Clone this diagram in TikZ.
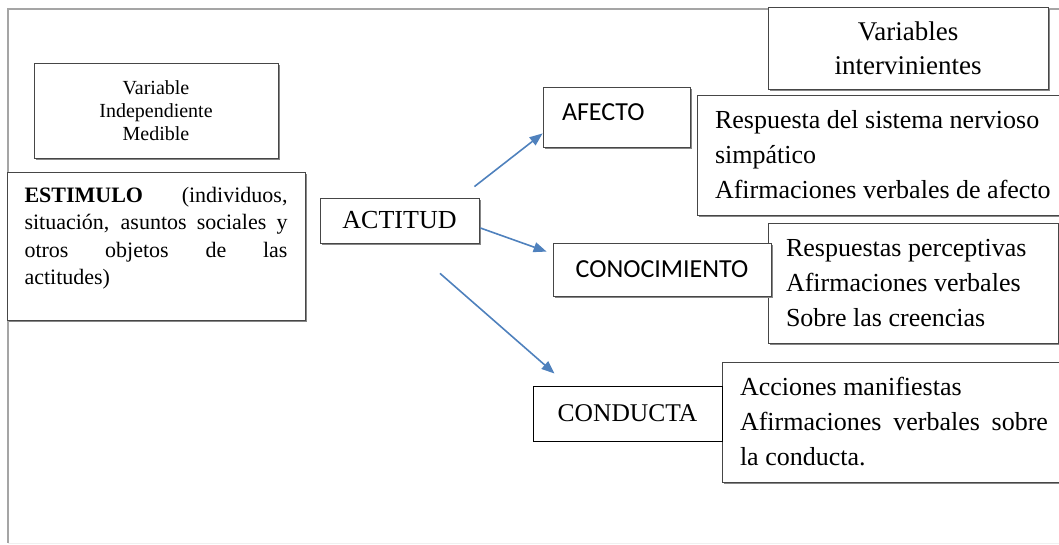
\documentclass[tikz,border=0pt]{standalone}
\usepackage{fontspec}
\setmainfont{Liberation Serif}
\newfontfamily\calibri{Carlito}
\usetikzlibrary{arrows.meta}
\usetikzlibrary{shadows}
\definecolor{boxGray}{RGB}{70,70,70}
\definecolor{shadowGray}{RGB}{135,135,135}
\definecolor{frameGray}{RGB}{165,165,165}
\definecolor{arrowBlue}{RGB}{79,129,189}

\tikzset{
    caja/.style={draw=boxGray, fill=white, line width=0.8pt, inner sep=0pt,
        drop shadow={shadow xshift=1.8pt, shadow yshift=-1.8pt, fill=shadowGray, opacity=1}},
    cajalista/.style={caja, inner xsep=18pt, align=flush left, font=\fontsize{26}{35}\selectfont},
    flecha/.style={draw=arrowBlue, line width=1.6pt, -{Triangle[length=13pt,width=10pt]}}
}

\begin{document}
\begin{tikzpicture}[x=1pt,y=-1pt]
    \useasboundingbox (0,0) rectangle (1059,544);

    % marco
    \draw[frameGray, line width=1.5pt] (8,543) -- (8,9) -- (1075,9);
    \draw[gray!12, line width=1pt] (8,543) -- (1059,543);

    % variables intervinientes
    \node[caja, minimum width=280pt, minimum height=82pt, align=center,
        font=\fontsize{27}{34}\selectfont] (varint) at (908,48) {Variables\\intervinientes};
    \node[cajalista, text width=360pt, minimum height=120pt] (resafecto) at (895,155)
        {Respuesta del sistema nervioso\\simpático\\Afirmaciones verbales de afecto};
    \node[cajalista, text width=254pt, minimum height=120pt] (resconoc) at (913,283)
        {Respuestas perceptivas\\Afirmaciones verbales\\Sobre las creencias};
    \node[cajalista, text width=320pt, minimum height=120pt] (resconduc) at (900,422)
        {Acciones manifiestas\\\makebox[308pt][s]{Afirmaciones verbales sobre}\\la conducta.};

    % variable independiente
    \node[caja, minimum width=244pt, minimum height=95pt, align=center,
        font=\fontsize{20}{23}\selectfont] (varind) at (156,110.5) {Variable\\Independiente\\Medible};
    \node[caja, inner xsep=17.5pt, text width=263pt, align=flush left, text height=30pt, text depth=118pt,
        font=\fontsize{22}{27.5}\selectfont] (estimulo) at (156,246)
        {\makebox[263pt][s]{\textbf{ESTIMULO} \ (individuos,}\\
         \makebox[263pt][s]{situación, asuntos sociales y}\\
         \makebox[263pt][s]{otros objetos de las}\\
         actitudes)};

    \node[caja, minimum width=159pt, minimum height=45pt, font=\fontsize{26}{30}\selectfont] (actitud) at (399.5,220.5) {ACTITUD\hspace{8pt}};

    \node[caja, inner xsep=19pt, text width=109pt, align=flush left, text height=33pt, text depth=27pt,
        font=\calibri\fontsize{26}{30}\selectfont] (afecto) at (616.5,117) {AFECTO};
    \node[caja, minimum width=218pt, minimum height=53pt, font=\calibri\fontsize{26}{30}\selectfont] (conocimiento) at (662,269.5) {CONOCIMIENTO};
    \node[draw=black, fill=white, line width=0.9pt, inner sep=0pt, minimum width=189pt, minimum height=55pt,
        font=\fontsize{25.5}{30}\selectfont] (conducta) at (627.5,413.5) {CONDUCTA\hspace{8pt}};

    % flechas
    \draw[flecha] ([xshift=-5pt,yshift=11pt]actitud.north east) -- ([yshift=14pt]afecto.south west);
    \draw[flecha] ([xshift=1pt,yshift=-7.5pt]actitud.east) -- ([xshift=-6pt,yshift=-9pt]conocimiento.north west);
    \draw[flecha] ([xshift=40.5pt,yshift=-30pt]actitud.south) -- ([xshift=22pt,yshift=12pt]conducta.north west);
\end{tikzpicture}
\end{document}
